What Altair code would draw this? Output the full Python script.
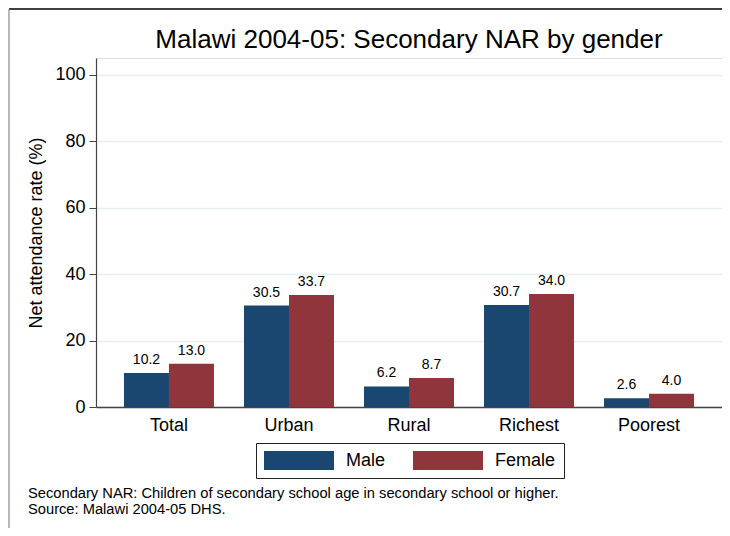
import altair as alt
import pandas as pd

categories = ["Total", "Urban", "Rural", "Richest", "Poorest"]
male = [10.2, 30.5, 6.2, 30.7, 2.6]
female = [13.0, 33.7, 8.7, 34.0, 4.0]
series = ["Male", "Female"]
colors = ["#1a476f", "#90353b"]
y_ticks = [0, 20, 40, 60, 80, 100]
title_text = "Malawi 2004-05: Secondary NAR by gender"
y_title = "Net attendance rate (%)"
note_lines = [
    "Secondary NAR: Children of secondary school age in secondary school or higher.",
    "Source: Malawi 2004-05 DHS.",
]

rows = []
for c, m, f in zip(categories, male, female):
    rows.append({"category": c, "series": "Male", "value": m})
    rows.append({"category": c, "series": "Female", "value": f})
df = pd.DataFrame(rows)

FONT = "Liberation Sans"
W, H = 626, 349

x_enc = alt.X(
    "category:N",
    sort=categories,
    scale=alt.Scale(paddingInner=0.25, paddingOuter=0.233),
    axis=alt.Axis(
        title=None, labelAngle=0, ticks=False, labelFontSize=18, labelPadding=9,
        labelColor="black", domainColor="#444444", domainWidth=1.5, labelFont=FONT,
    ),
)
xoff_enc = alt.XOffset("series:N", sort=series, scale=alt.Scale(paddingInner=0, paddingOuter=0))
y_enc = alt.Y(
    "value:Q",
    scale=alt.Scale(domain=[0, 105], nice=False, zero=True),
    axis=alt.Axis(
        values=y_ticks, title=y_title, grid=True, gridColor="#e6eef0", gridWidth=1.5,
        tickSize=7, tickColor="#444444", domainColor="#444444", domainWidth=1.2,
        labelFontSize=18, labelPadding=4, labelColor="black", labelFont=FONT,
        titleFontSize=18, titleFontWeight="normal", titleColor="black", titleFont=FONT,
        titlePadding=9,
    ),
)

base = alt.Chart(df)
bars = base.mark_bar().encode(
    x=x_enc,
    xOffset=xoff_enc,
    y=y_enc,
    color=alt.Color(
        "series:N",
        sort=series,
        scale=alt.Scale(domain=series, range=colors),
        legend=alt.Legend(
            title=None, orient="none", legendX=160, legendY=385, direction="horizontal",
            symbolType="M-1,-0.27L1,-0.27L1,0.27L-1,0.27Z", symbolSize=4900,
            symbolStrokeWidth=0, symbolOpacity=1, clipHeight=19,
            labelFontSize=18, labelFont=FONT, labelColor="black", labelOffset=12,
            columnPadding=27, padding=8, strokeColor="#222222", fillColor="white",
        ),
    ),
)
labels = base.mark_text(baseline="alphabetic", dy=-9, fontSize=14, font=FONT, color="black").encode(
    x=x_enc,
    xOffset=xoff_enc,
    y=y_enc,
    text=alt.Text("value:Q", format=".1f"),
)

one = pd.DataFrame({"i": [0]})
note = alt.Chart(one).mark_text(
    text=note_lines, align="left", baseline="alphabetic", fontSize=14.7, lineHeight=16,
    font=FONT, color="black",
).encode(x=alt.value(-68), y=alt.value(440))
frame_top = alt.Chart(one).mark_rule(color="black", strokeWidth=1.5).encode(
    x=alt.value(-87), x2=alt.value(W), y=alt.value(-49)
)
frame_left = alt.Chart(one).mark_rule(color="#888888", strokeWidth=1.2).encode(
    x=alt.value(-87), y=alt.value(-49), y2=alt.value(470)
)

chart = alt.layer(bars, labels, note, frame_top, frame_left).properties(
    width=W,
    height=H,
    title=alt.TitleParams(title_text, fontSize=26, fontWeight="normal", font=FONT,
                          color="black", anchor="middle", offset=-45),
    autosize=alt.AutoSizeParams(type="none"),
    padding={"left": 88, "top": 50, "right": 0, "bottom": 121},
).configure_view(stroke=None).configure(background="white")

chart.save("out.html", embed_options={"renderer": "svg", "actions": False})
